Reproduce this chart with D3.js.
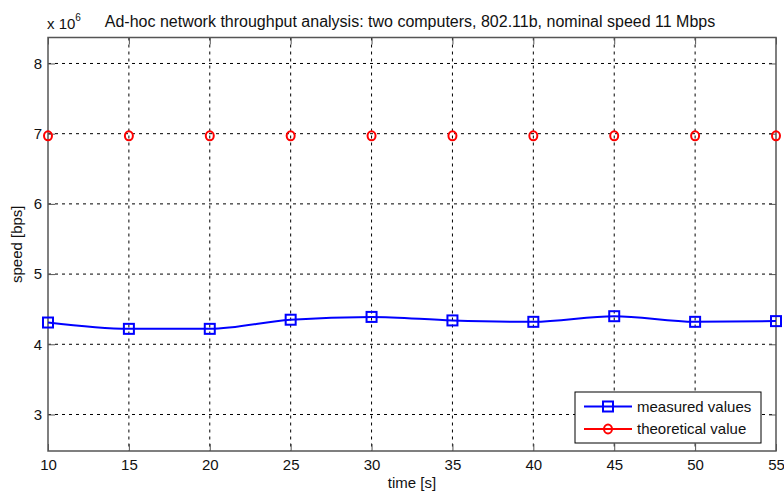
<!DOCTYPE html>
<html><head><meta charset="utf-8">
<script src="https://cdn.jsdelivr.net/npm/d3@7"></script>
<style>body{margin:0;background:#fff;} text{font-family:"Liberation Sans",Arial,sans-serif;}</style>
</head><body>
<svg id="c" width="784" height="492"></svg>
<script>
const times = [10,15,20,25,30,35,40,45,50,55];
const measured = [4.31,4.22,4.22,4.35,4.39,4.34,4.32,4.40,4.32,4.33];
const theoretical = [6.97,6.97,6.97,6.97,6.97,6.97,6.97,6.97,6.97,6.97];
const xTicks = [10,15,20,25,30,35,40,45,50,55];
const yTicks = [3,4,5,6,7,8];
const yDomain = [2.48, 8.37];
const seriesNames = ["measured values","theoretical value"];
const titleText = "Ad-hoc network throughput analysis: two computers, 802.11b, nominal speed 11 Mbps";

const svg = d3.select("#c");
const L=48, R=776, T=37.5, B=451;
const x = d3.scaleLinear().domain([10,55]).range([L,R]);
const y = d3.scaleLinear().domain(yDomain).range([B,T]);
const g = svg.append("g");
const FS = 15;

// grid
g.selectAll(".gx").data(xTicks.slice(1,-1)).enter().append("line")
  .attr("x1",d=>x(d)).attr("x2",d=>x(d)).attr("y1",T).attr("y2",B)
  .attr("stroke","#000").attr("stroke-width",1).attr("stroke-dasharray","3,4");
g.selectAll(".gy").data(yTicks).enter().append("line")
  .attr("x1",L).attr("x2",R).attr("y1",d=>y(d)).attr("y2",d=>y(d))
  .attr("stroke","#000").attr("stroke-width",1).attr("stroke-dasharray","3,4");

// axes via d3
const tl = 7;
const styleText = a=>a.selectAll("text").attr("font-size",FS).attr("fill","#111").attr("font-family","Liberation Sans, Arial, sans-serif");
svg.append("g").attr("transform",`translate(0,${B})`)
  .call(d3.axisBottom(x).tickValues(xTicks).tickSize(-tl).tickPadding(8).tickFormat(d3.format("d")))
  .call(a=>{a.select(".domain").remove();a.selectAll("line").attr("stroke","#555");styleText(a);});
svg.append("g").attr("transform",`translate(0,${T})`)
  .call(d3.axisTop(x).tickValues(xTicks).tickSize(-tl).tickFormat(""))
  .call(a=>{a.select(".domain").remove();a.selectAll("line").attr("stroke","#555");});
svg.append("g").attr("transform",`translate(${L},0)`)
  .call(d3.axisLeft(y).tickValues(yTicks).tickSize(-tl).tickPadding(6).tickFormat(d3.format("d")))
  .call(a=>{a.select(".domain").remove();a.selectAll("line").attr("stroke","#555");styleText(a);});
svg.append("g").attr("transform",`translate(${R},0)`)
  .call(d3.axisRight(y).tickValues(yTicks).tickSize(-tl).tickFormat(""))
  .call(a=>{a.select(".domain").remove();a.selectAll("line").attr("stroke","#555");});

svg.append("rect").attr("x",L).attr("y",T).attr("width",R-L).attr("height",B-T)
  .attr("fill","none").attr("stroke","#555").attr("stroke-width",1.5);

// series
const lineM = d3.line().x((d,i)=>x(times[i])).y(d=>y(d)).curve(d3.curveMonotoneX);
svg.append("path").attr("d",lineM(measured)).attr("fill","none").attr("stroke","#0000ff").attr("stroke-width",2);

const s=10;
svg.selectAll(".sq").data(measured).enter().append("rect")
  .attr("x",(d,i)=>x(times[i])-s/2).attr("y",d=>y(d)-s/2).attr("width",s).attr("height",s)
  .attr("fill","none").attr("stroke","#0000ff").attr("stroke-width",2);
svg.selectAll(".ci").data(theoretical).enter().append("ellipse")
  .attr("cx",(d,i)=>x(times[i])).attr("cy",d=>y(d)).attr("rx",4).attr("ry",4.5)
  .attr("fill","none").attr("stroke","#ff0000").attr("stroke-width",2);

// legend
const lg = svg.append("g");
lg.append("rect").attr("x",575).attr("y",392).attr("width",186).attr("height",51)
  .attr("fill","#fff").attr("stroke","#000").attr("stroke-width",1);
const rows=[{c:"#0000ff",y:406.5,m:"sq"},{c:"#ff0000",y:429,m:"ci"}];
rows.forEach((r,i)=>{
  lg.append("line").attr("x1",584).attr("x2",632).attr("y1",r.y).attr("y2",r.y).attr("stroke",r.c).attr("stroke-width",2);
  if(r.m==="sq") lg.append("rect").attr("x",608-s/2).attr("y",r.y-s/2).attr("width",s).attr("height",s).attr("fill","none").attr("stroke",r.c).attr("stroke-width",2);
  else lg.append("ellipse").attr("cx",608).attr("cy",r.y).attr("rx",4).attr("ry",4.5).attr("fill","none").attr("stroke",r.c).attr("stroke-width",2);
  lg.append("text").attr("x",637).attr("y",r.y+5).attr("font-size",FS).attr("fill","#111").text(seriesNames[i]);
});

// texts
svg.append("text").attr("x",410).attr("y",27).attr("text-anchor","middle").attr("font-size",16).attr("fill","#111").text(titleText);
const ex = svg.append("text").attr("x",47).attr("y",29).attr("font-size",FS).attr("fill","#111");
ex.append("tspan").text("x 10");
ex.append("tspan").attr("dy",-8).attr("font-size",10).text("6");
svg.append("text").attr("x",412).attr("y",488).attr("text-anchor","middle").attr("font-size",FS).attr("fill","#111").text("time [s]");
svg.append("text").attr("transform",`translate(22,${(T+B)/2}) rotate(-90)`).attr("text-anchor","middle").attr("font-size",FS).attr("fill","#111").text("speed [bps]");
</script>
</body></html>
